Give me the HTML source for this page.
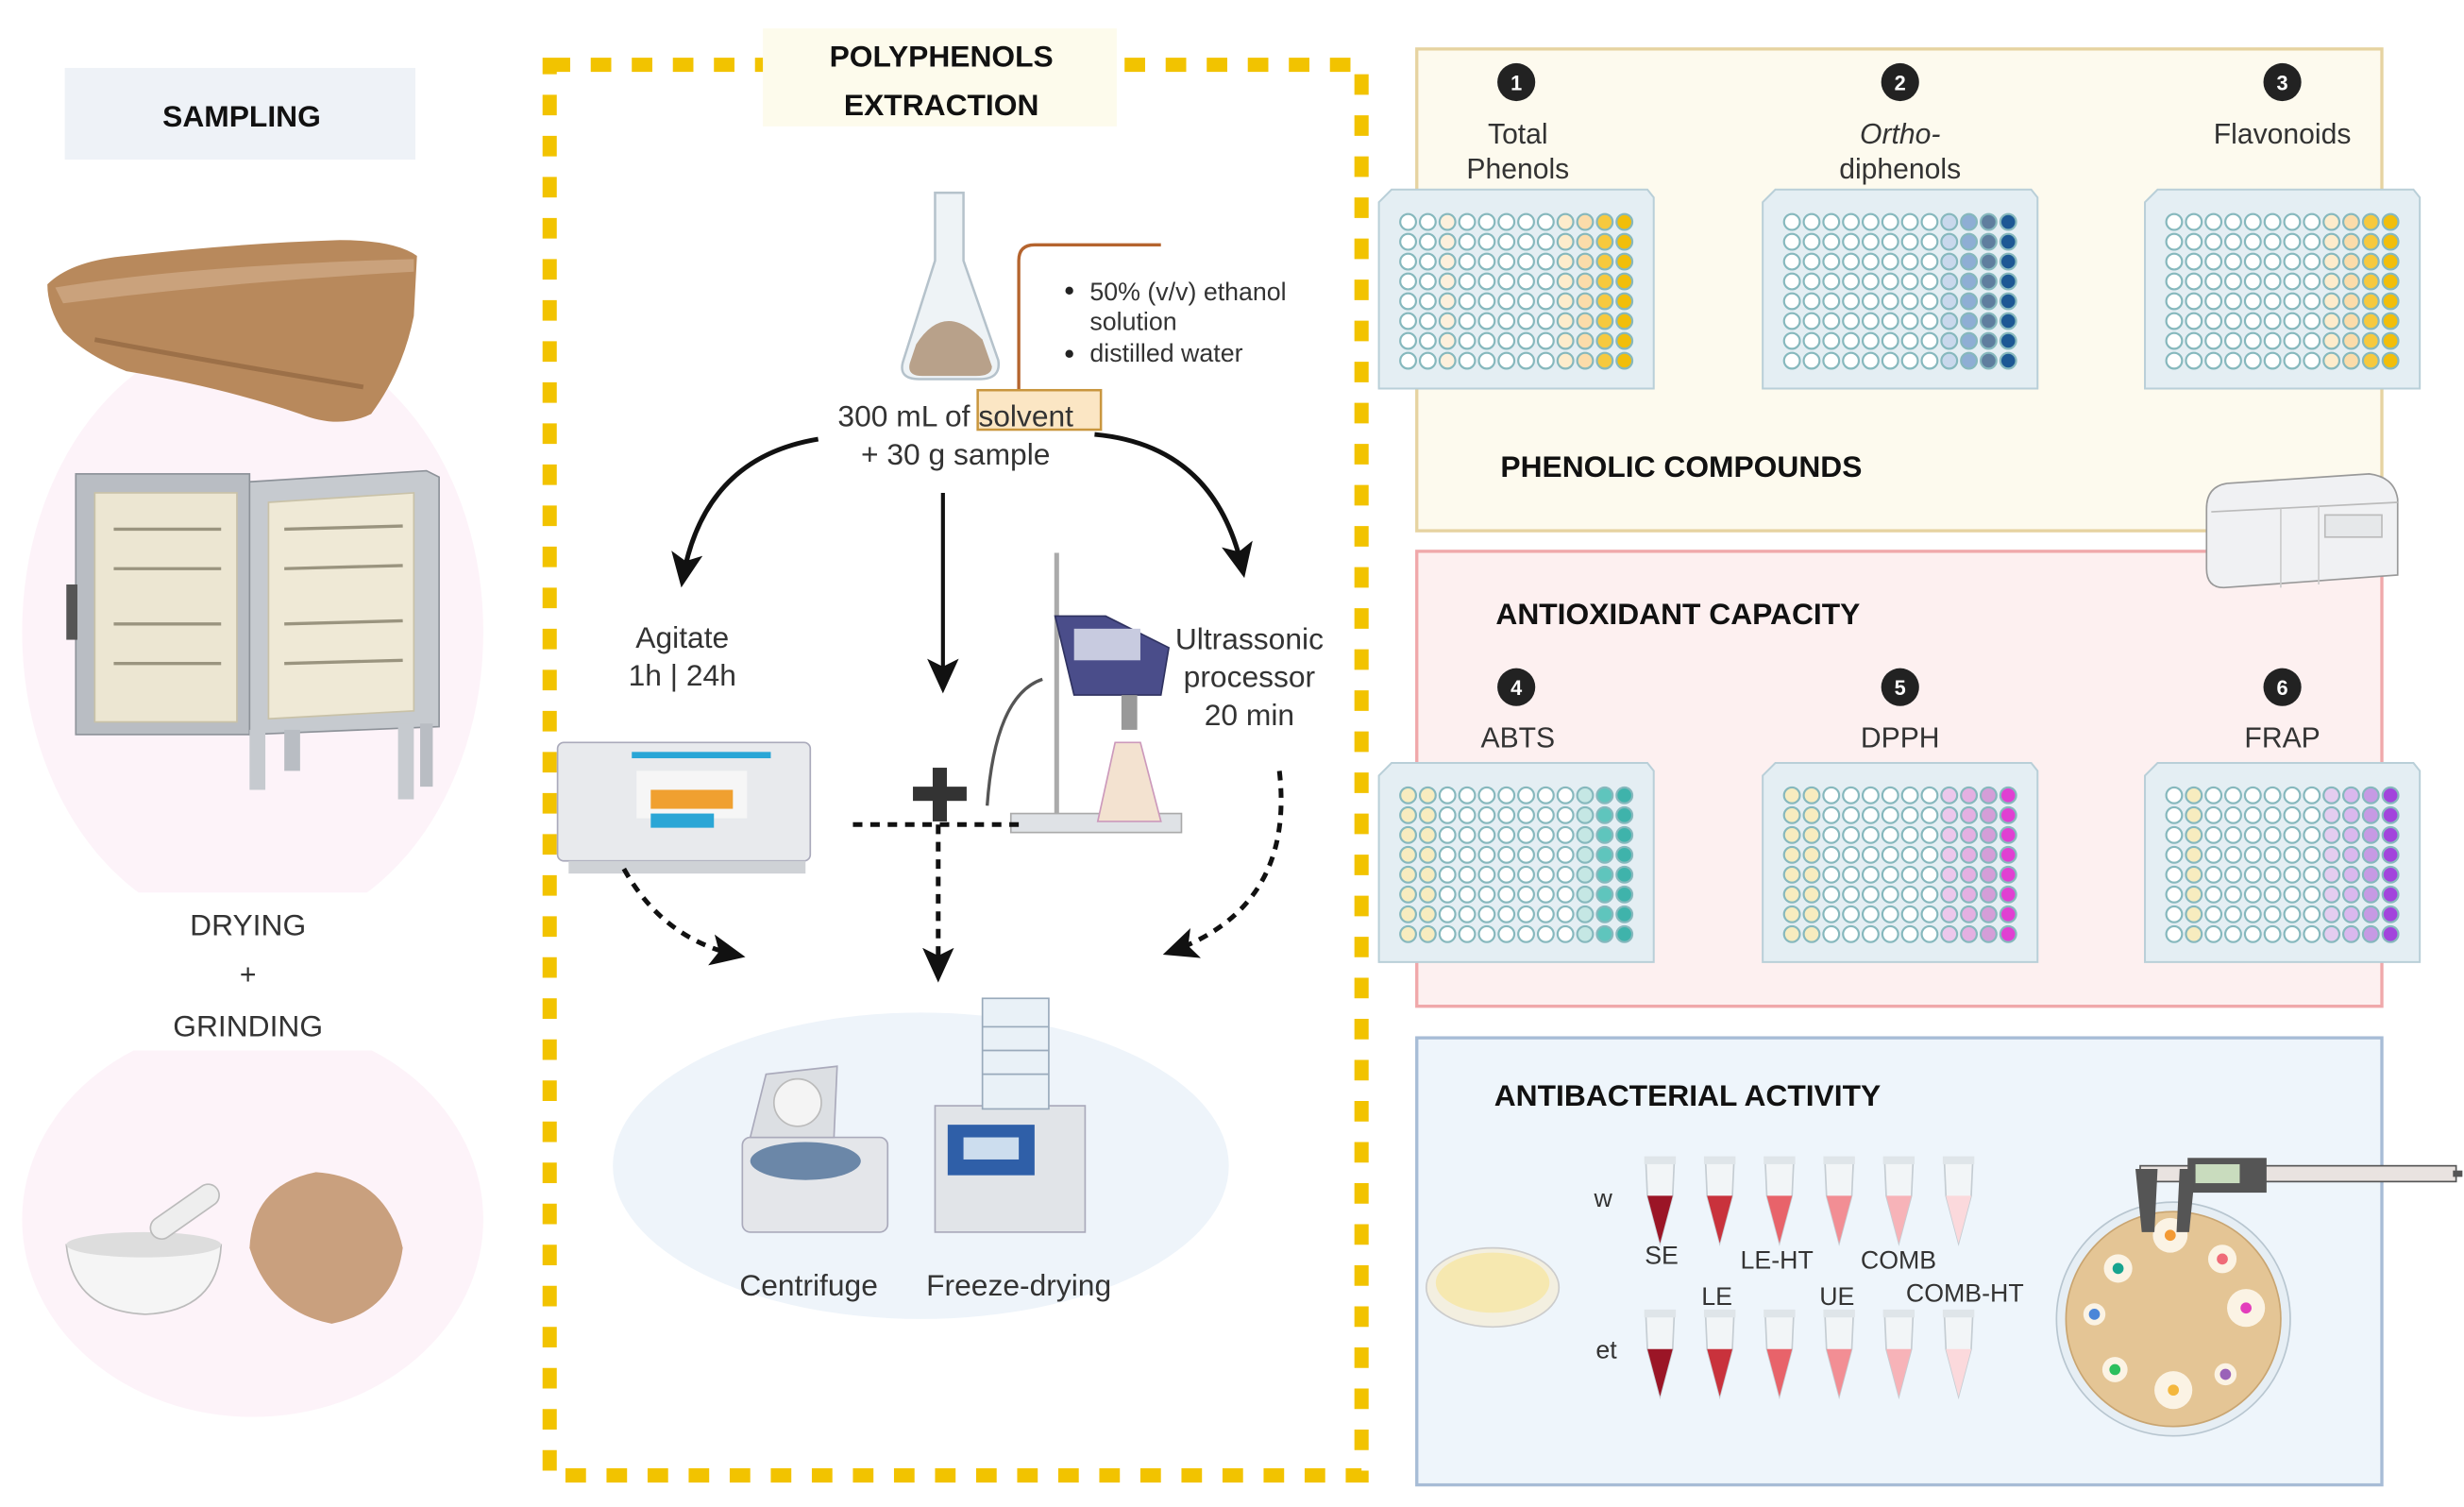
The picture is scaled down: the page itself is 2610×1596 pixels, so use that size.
<!DOCTYPE html>
<html><head><meta charset="utf-8"><style>
html,body{margin:0;padding:0;background:#fff;}
svg{display:block;}
text{font-family:"Liberation Sans",sans-serif;fill:#333;}
.b{font-weight:bold;fill:#111;}
</style></head><body>
<svg id="s" width="2610" height="1596" viewBox="0 0 1560 954" preserveAspectRatio="none" xmlns="http://www.w3.org/2000/svg">
<defs>
<marker id="ah2" markerWidth="22" markerHeight="20" refX="18" refY="10" orient="auto" markerUnits="userSpaceOnUse"><path d="M0,0 L22,10 L0,20 L5,10 Z" fill="#111"/></marker>
</defs>
<!-- SAMPLING column -->
<rect x="41" y="43" width="222" height="58" fill="#eef2f7"/>
<text x="153" y="80" class="b" font-size="19" text-anchor="middle">SAMPLING</text>
<ellipse cx="160" cy="400" rx="146" ry="190" fill="#fdf3f9"/>
<ellipse cx="160" cy="772" rx="146" ry="125" fill="#fdf3f9"/>
<rect x="60" y="565" width="200" height="100" fill="#fff"/>
<text x="157" y="592" font-size="19" text-anchor="middle">DRYING</text>
<text x="157" y="623" font-size="18" text-anchor="middle">+</text>
<text x="157" y="656" font-size="19" text-anchor="middle">GRINDING</text>
<!-- rock -->
<path d="M30,180 Q45,165 80,162 Q150,154 215,152 Q250,152 264,162 L262,200 Q255,235 235,262 Q215,272 190,262 Q140,245 80,235 Q55,225 40,210 Q30,195 30,180Z" fill="#b8895c"/>
<path d="M35,182 Q120,168 262,164 L262,172 Q150,178 40,192Z" fill="#caa27c"/>
<path d="M60,215 Q140,230 230,245" stroke="#9c7048" stroke-width="3" fill="none"/>
<!-- oven -->
<rect x="48" y="300" width="110" height="165" fill="#b9bdc3" stroke="#8d9299"/>
<rect x="60" y="312" width="90" height="145" fill="#ece6d2" stroke="#c9c2a8"/>
<path d="M158,305 L270,298 L278,302 L278,460 L158,465Z" fill="#c6cacf" stroke="#8d9299"/>
<path d="M170,318 L262,312 L262,450 L170,455Z" fill="#efe9d6" stroke="#c9c2a8"/>
<g stroke="#9a947f" stroke-width="2">
<line x1="72" y1="335" x2="140" y2="335"/><line x1="72" y1="360" x2="140" y2="360"/><line x1="72" y1="395" x2="140" y2="395"/><line x1="72" y1="420" x2="140" y2="420"/>
<line x1="180" y1="335" x2="255" y2="333"/><line x1="180" y1="360" x2="255" y2="358"/><line x1="180" y1="395" x2="255" y2="393"/><line x1="180" y1="420" x2="255" y2="418"/>
</g>
<rect x="42" y="370" width="7" height="35" fill="#555"/>
<rect x="158" y="462" width="10" height="38" fill="#c6cacf"/><rect x="180" y="462" width="10" height="26" fill="#b9bdc3"/>
<rect x="252" y="458" width="10" height="48" fill="#c6cacf"/><rect x="266" y="458" width="8" height="40" fill="#b9bdc3"/>
<!-- mortar & powder -->
<path d="M42,788 L140,788 Q138,830 92,832 Q46,830 42,788Z" fill="#f5f5f5" stroke="#bbb"/>
<ellipse cx="91" cy="788" rx="49" ry="8" fill="#ddd"/>
<rect x="92" y="760" width="50" height="14" rx="7" fill="#eee" stroke="#bbb" transform="rotate(-35 117 767)"/>
<path d="M158,790 Q160,750 200,742 Q245,745 255,790 Q250,830 210,838 Q170,830 158,790Z" fill="#c9a07e"/>
<!-- POLYPHENOLS extraction -->
<rect x="348" y="41" width="514" height="893" fill="none" stroke="#f2c300" stroke-width="9" stroke-dasharray="13,13"/>
<rect x="483" y="18" width="224" height="62" fill="#fdfbec"/>
<text x="596" y="42" class="b" font-size="19" text-anchor="middle">POLYPHENOLS</text>
<text x="596" y="73" class="b" font-size="19" text-anchor="middle">EXTRACTION</text>
<!-- flask -->
<path d="M592,122 L610,122 L610,165 L632,228 Q634,240 620,240 L582,240 Q568,240 572,228 L592,165Z" fill="#eef3f6" stroke="#b5c2cb" stroke-width="1.5"/>
<path d="M580,218 Q598,190 622,215 L628,232 Q628,238 618,238 L584,238 Q574,238 576,230Z" fill="#b8a18a"/>
<path d="M645,250 L645,165 Q645,155 655,155 L735,155" fill="none" stroke="#b5642e" stroke-width="2"/>
<circle cx="677" cy="184" r="2.5" fill="#222"/><circle cx="677" cy="224" r="2.5" fill="#222"/>
<text x="690" y="190" font-size="16">50% (v/v) ethanol</text>
<text x="690" y="209" font-size="16">solution</text>
<text x="690" y="229" font-size="16">distilled water</text>
<rect x="619" y="247" width="78" height="25" fill="#fbe6c4" stroke="#c9963e" stroke-width="1.5"/>
<text x="605" y="270" font-size="19" text-anchor="middle">300 mL of solvent</text>
<text x="605" y="294" font-size="19" text-anchor="middle">+ 30 g sample</text>
<!-- arrows -->
<path d="M518,278 Q445,290 432,368" fill="none" stroke="#111" stroke-width="3" marker-end="url(#ah2)"/>
<path d="M597,312 L597,435" fill="none" stroke="#111" stroke-width="2.5" marker-end="url(#ah2)"/>
<path d="M693,275 Q770,282 787,362" fill="none" stroke="#111" stroke-width="3" marker-end="url(#ah2)"/>
<text x="432" y="410" font-size="19" text-anchor="middle">Agitate</text>
<text x="432" y="434" font-size="19" text-anchor="middle">1h | 24h</text>
<text x="791" y="411" font-size="19" text-anchor="middle">Ultrassonic</text>
<text x="791" y="435" font-size="19" text-anchor="middle">processor</text>
<text x="791" y="459" font-size="19" text-anchor="middle">20 min</text>
<!-- shaker -->
<rect x="353" y="470" width="160" height="75" rx="4" fill="#e8eaed" stroke="#aab"/>
<rect x="400" y="476" width="88" height="4" fill="#2aa6d6"/>
<rect x="403" y="488" width="70" height="30" fill="#f6f6f6"/>
<rect x="412" y="500" width="52" height="12" fill="#f0a030"/>
<rect x="412" y="515" width="40" height="9" fill="#2aa6d6"/>
<rect x="360" y="545" width="150" height="8" fill="#cfd2d6"/>
<!-- ultrasonic -->
<line x1="669" y1="350" x2="669" y2="520" stroke="#aaa" stroke-width="3"/>
<rect x="640" y="515" width="108" height="12" fill="#dfe2e6" stroke="#aaa"/>
<path d="M668,390 L700,390 L740,410 L735,440 L680,440Z" fill="#4a4d8a" stroke="#2f3260"/>
<rect x="680" y="398" width="42" height="20" fill="#c8cbe0"/>
<rect x="710" y="440" width="10" height="22" fill="#999"/>
<path d="M706,470 L722,470 L735,520 L695,520Z" fill="#f3e2d0" stroke="#c9b"/>
<path d="M660,430 Q630,440 625,510" fill="none" stroke="#555" stroke-width="2"/>
<!-- plus -->
<rect x="578" y="498" width="34" height="9" fill="#333"/>
<rect x="590.5" y="486" width="9" height="34" fill="#333"/>
<!-- dotted -->
<g fill="none" stroke="#111" stroke-width="3" stroke-dasharray="6,5">
<path d="M395,550 Q420,595 468,605" marker-end="url(#ah2)"/>
<path d="M540,522 L645,522"/>
<path d="M594,522 L594,618" marker-end="url(#ah2)"/>
<path d="M810,488 Q820,575 740,603" marker-end="url(#ah2)"/>
</g>
<!-- centrifuge/freeze -->
<ellipse cx="583" cy="738" rx="195" ry="97" fill="#eef4fa"/>
<rect x="470" y="720" width="92" height="60" rx="5" fill="#e4e6ea" stroke="#aab"/>
<ellipse cx="510" cy="735" rx="35" ry="12" fill="#6b87a8"/>
<path d="M475,720 L485,680 L530,675 L528,720Z" fill="#dcdfe3" stroke="#aab"/>
<circle cx="505" cy="698" r="15" fill="#f4f4f4" stroke="#bbb"/>
<rect x="592" y="700" width="95" height="80" fill="#e1e4e8" stroke="#aab"/>
<rect x="600" y="712" width="55" height="32" fill="#2f5fa8"/>
<rect x="610" y="720" width="35" height="14" fill="#cde"/>
<rect x="622" y="632" width="42" height="70" fill="#e9f1f7" stroke="#9ab"/>
<g stroke="#9ab"><line x1="622" y1="650" x2="664" y2="650"/><line x1="622" y1="665" x2="664" y2="665"/><line x1="622" y1="680" x2="664" y2="680"/></g>
<text x="512" y="820" font-size="19" text-anchor="middle">Centrifuge</text>
<text x="645" y="820" font-size="19" text-anchor="middle">Freeze-drying</text>
<!-- right boxes -->
<rect x="897" y="31" width="611" height="305" fill="#fdfaee" stroke="#e6d3a1" stroke-width="2"/>
<rect x="897" y="349" width="611" height="288" fill="#fdf0f0" stroke="#f0a8aa" stroke-width="2"/>
<rect x="897" y="657" width="611" height="283" fill="#eef5fb" stroke="#a7bcd6" stroke-width="2"/>
<text x="950" y="302" class="b" font-size="19">PHENOLIC COMPOUNDS</text>
<text x="947" y="395" class="b" font-size="19">ANTIOXIDANT CAPACITY</text>
<text x="946" y="700" class="b" font-size="19">ANTIBACTERIAL ACTIVITY</text>
<g id="nums"></g>
<text x="961" y="91" font-size="18" text-anchor="middle">Total</text>
<text x="961" y="113" font-size="18" text-anchor="middle">Phenols</text>
<text x="1203" y="91" font-size="18" text-anchor="middle" font-style="italic">Ortho-</text>
<text x="1203" y="113" font-size="18" text-anchor="middle">diphenols</text>
<text x="1445" y="91" font-size="18" text-anchor="middle">Flavonoids</text>
<text x="961" y="473" font-size="18" text-anchor="middle">ABTS</text>
<text x="1203" y="473" font-size="18" text-anchor="middle">DPPH</text>
<text x="1445" y="473" font-size="18" text-anchor="middle">FRAP</text>
<g id="plates"></g>
<!-- reader -->
<path d="M1397,322 Q1397,308 1410,306 L1500,300 Q1516,302 1518,316 L1518,364 L1408,372 Q1397,372 1397,360Z" fill="#f0f1f3" stroke="#999"/>
<path d="M1400,324 L1518,318" stroke="#bbb" fill="none"/>
<path d="M1444,322 L1444,372 M1468,320 L1468,370" stroke="#ccc" fill="none"/>
<rect x="1472" y="326" width="36" height="14" fill="#e6e8ea" stroke="#bbb"/>
<!-- antibacterial -->
<g id="tubes"></g>
<text x="1015" y="764" font-size="16" text-anchor="middle">w</text>
<text x="1017" y="860" font-size="16" text-anchor="middle">et</text>
<text x="1052" y="800" font-size="16" text-anchor="middle">SE</text>
<text x="1125" y="803" font-size="16" text-anchor="middle">LE-HT</text>
<text x="1202" y="803" font-size="16" text-anchor="middle">COMB</text>
<text x="1087" y="826" font-size="16" text-anchor="middle">LE</text>
<text x="1163" y="826" font-size="16" text-anchor="middle">UE</text>
<text x="1244" y="824" font-size="16" text-anchor="middle">COMB-HT</text>
<ellipse cx="945" cy="815" rx="42" ry="25" fill="#f3efe0" stroke="#ccc"/>
<ellipse cx="945" cy="812" rx="36" ry="19" fill="#f6e8b0"/>
<circle cx="1376" cy="835" r="74" fill="#e6eef4" stroke="#b8c6d0"/>
<circle cx="1376" cy="835" r="68" fill="#e4c595" stroke="#c9a571"/>
<g id="spots"></g>
<rect x="1355" y="738" width="200" height="10" fill="#e9e3e0" stroke="#555"/>
<rect x="1385" y="733" width="50" height="22" fill="#555"/>
<rect x="1390" y="737" width="28" height="12" fill="#c9dcbe"/>
<path d="M1352,740 L1356,780 L1364,780 L1366,740Z" fill="#555"/>
<path d="M1380,740 L1378,780 L1386,780 L1390,740Z" fill="#555"/>
<rect x="1553" y="741" width="6" height="4" fill="#555"/>
</svg>
<script>
var NS="http://www.w3.org/2000/svg";
function el(p,t,a){var e=document.createElementNS(NS,t);for(var k in a)e.setAttribute(k,a[k]);p.appendChild(e);return e;}
var P=document.getElementById('plates');
var Y="#fdf0dc",W="#fff";
var sets=[
 [873,120,[W,W,Y,W,W,W,W,W,"#fdeccc","#fbdcaa","#f6c93e","#f1be0a"]],
 [1116,120,[W,W,W,W,W,W,W,W,"#c8d8ec","#8eaed4","#5f7e9e","#1d5894"]],
 [1358,120,[W,W,W,W,W,W,W,W,"#fdeccc","#fbdcaa","#f6c93e","#f1be0a"]],
 [873,483,["#f7ecbf","#f7ecbf",W,W,W,W,W,W,W,"#c5e7e4","#5fc5bd","#3fb3ab"]],
 [1116,483,["#f7ecbf","#f7ecbf",W,W,W,W,W,W,"#ecc8ec","#e4b0e2","#d49ed8","#e040d2"]],
 [1358,483,[W,"#f7ecbf",W,W,W,W,W,W,"#e4cdf0","#dab8ee","#c69ae4","#a244dc"]]];
sets.forEach(function(s){
 var x=s[0],y=s[1];
 el(P,'path',{d:'M'+(x+8)+','+y+' L'+(x+170)+','+y+' L'+(x+174)+','+(y+5)+' L'+(x+174)+','+(y+126)+' L'+x+','+(y+126)+' L'+x+','+(y+8)+'Z',fill:'#e4eef3',stroke:'#b9cfd8','stroke-width':1.2});
 for(var c=0;c<12;c++)for(var r=0;r<8;r++)
  el(P,'circle',{cx:x+18.5+c*12.45,cy:y+20.5+r*12.55,r:5,fill:s[2][c],stroke:'#86b8bd','stroke-width':1.3});
});
var N=document.getElementById('nums');
[[960,52,1],[1203,52,2],[1445,52,3],[960,435,4],[1203,435,5],[1445,435,6]].forEach(function(n){
 el(N,'circle',{cx:n[0],cy:n[1],r:12,fill:'#222'});
 var t=el(N,'text',{x:n[0],y:n[1]+5,'font-size':13,'text-anchor':'middle','font-weight':'bold',style:'fill:#fff'});t.textContent=n[2];
});
var T=document.getElementById('tubes');
var cols=["#9b1526","#c9323c","#e8636a","#f28e94","#f7b3b8","#fbd9dc"];
[735,832].forEach(function(y){
 for(var i=0;i<6;i++){var x=1051+i*37.8;
  el(T,'path',{d:'M'+(x-9)+','+y+' L'+(x+9)+','+y+' L'+(x+8)+','+(y+22)+' L'+x+','+(y+52)+' L'+(x-8)+','+(y+22)+'Z',fill:'#f2f5f7',stroke:'#c5cdd3'});
  el(T,'path',{d:'M'+(x-8)+','+(y+22)+' L'+(x+8)+','+(y+22)+' L'+x+','+(y+52)+'Z',fill:cols[i]});
  el(T,'rect',{x:x-10,y:y-3,width:20,height:5,fill:'#dfe5e9'});
 }
});
var S=document.getElementById('spots');
[[1374,782,11,'#f39a34'],[1407,797,9,'#ef6b78'],[1341,803,9,'#17a48f'],[1422,828,12,'#e33dbb'],[1326,832,7,'#4b86d8'],[1339,867,8,'#2cbf5d'],[1376,880,12,'#f4b73d'],[1409,870,7,'#9a62b8']].forEach(function(s){
 el(S,'circle',{cx:s[0],cy:s[1],r:s[2],fill:'#fbf3e4'});el(S,'circle',{cx:s[0],cy:s[1],r:3.5,fill:s[3]});
});
</script>
</body></html>
